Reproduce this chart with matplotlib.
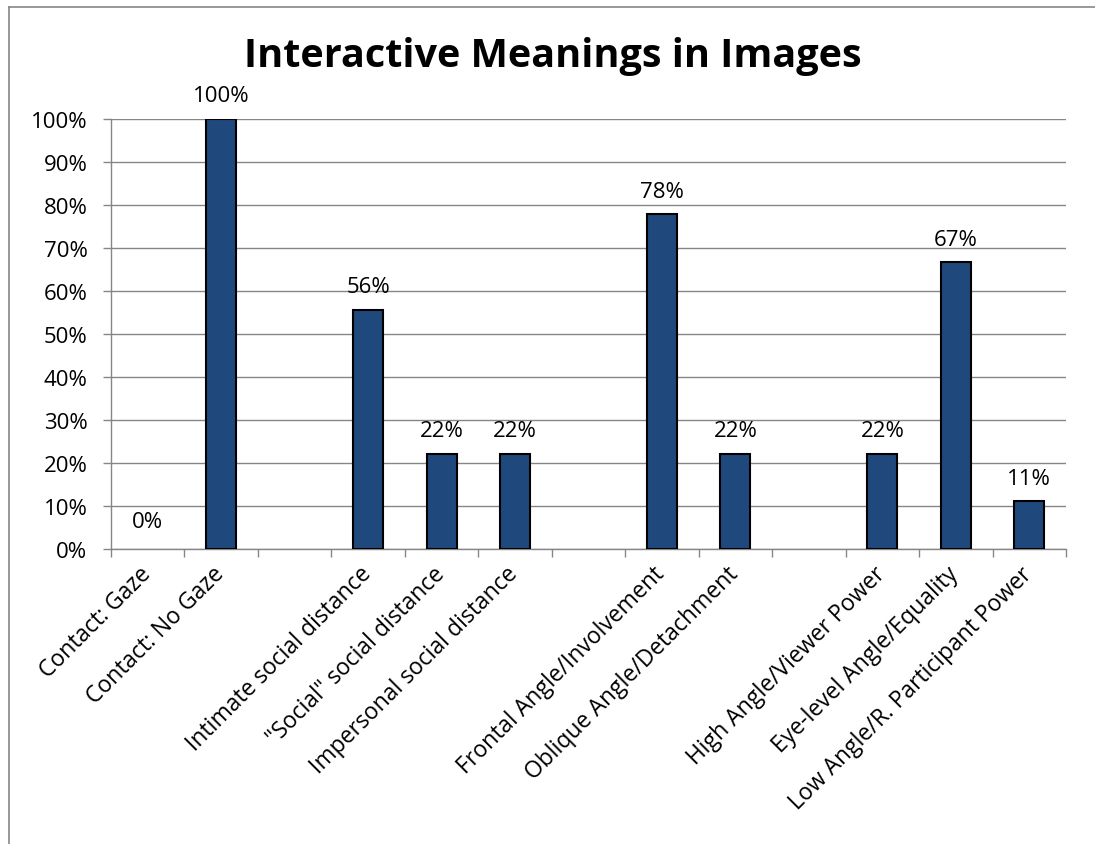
import numpy as np
import matplotlib
matplotlib.use("Agg")
import matplotlib.pyplot as plt
import matplotlib.transforms as mtransforms
from matplotlib.ticker import PercentFormatter, FixedLocator
from matplotlib.lines import Line2D

plt.rcParams['font.family'] = ['Open Sans', 'DejaVu Sans']

# Category slots; empty strings are spacer slots between groups
categories = [
    "Contact: Gaze", "Contact: No Gaze", "",
    "Intimate social distance", "\"Social\" social distance", "Impersonal social distance", "",
    "Frontal Angle/Involvement", "Oblique Angle/Detachment", "",
    "High Angle/Viewer Power", "Eye-level Angle/Equality", "Low Angle/R. Participant Power",
]
shares = [0.0, 1.0, np.nan,
          0.556, 0.222, 0.222, np.nan,
          0.778, 0.222, np.nan,
          0.222, 0.667, 0.111]

title = "Interactive Meanings in Images"
bar_color = "#1F497D"
grid_color = "#868686"
fs = 16

fig = plt.figure(figsize=(10.95, 8.45), dpi=100)
ax = fig.add_axes([111 / 1095, 1 - 550 / 845, (1066 - 111) / 1095, (550 - 120) / 845])

x = np.arange(len(categories))
vals = np.array(shares, dtype=float)
mask = ~np.isnan(vals)
xv, vv = x[mask], vals[mask]
edges = ["black" if v > 0 else "none" for v in vv]
ax.bar(xv, vv, width=0.41, color=bar_color, edgecolor=edges,
       linewidth=1.5, zorder=3)

for xi, v in zip(xv, vv):
    ax.annotate(f"{v:.0%}", (xi, v), xytext=(0, 9 if v > 0 else 12),
                textcoords="offset points", ha="center", va="bottom", fontsize=fs)

ax.set_xlim(-0.5, len(categories) - 0.5)
ax.set_ylim(0, 1.0)
ax.yaxis.set_major_locator(FixedLocator(np.linspace(0, 1, 11)))
ax.yaxis.set_major_formatter(PercentFormatter(1.0, decimals=0))
ax.grid(axis="y", color=grid_color, linewidth=1.0, zorder=0)
ax.set_axisbelow(True)

ax.set_xticks(x)
ax.set_xticklabels(categories, rotation=45, ha="right", rotation_mode="anchor",
                   fontsize=16.5)
ax.tick_params(axis="x", which="major", length=0, pad=9)
shift = mtransforms.ScaledTranslation(-9 / 100, 0, fig.dpi_scale_trans)
for lbl in ax.get_xticklabels():
    lbl.set_transform(lbl.get_transform() + shift)
ax.set_xticks(np.arange(-0.5, len(categories)), minor=True)
ax.tick_params(axis="x", which="minor", length=6, width=1, color=grid_color, direction="out")
ax.tick_params(axis="y", length=6, width=1, color=grid_color, labelsize=fs, pad=11)

for side in ("top", "right"):
    ax.spines[side].set_visible(False)
for side in ("left", "bottom"):
    ax.spines[side].set_color(grid_color)
    ax.spines[side].set_linewidth(1.0)

fig.text(0.505, 1 - 57 / 845, title, ha="center", va="center",
         fontsize=28.5, fontweight="bold")

# Chart frame (top and left edges)
fy = 1 - 8 / 845
fx = 8.5 / 1095
fig.lines.append(Line2D([fx, 1], [fy, fy], transform=fig.transFigure,
                        color=grid_color, linewidth=1.2))
fig.lines.append(Line2D([fx, fx], [0, fy], transform=fig.transFigure,
                        color=grid_color, linewidth=1.2))

fig.savefig("out.png", dpi=100)
